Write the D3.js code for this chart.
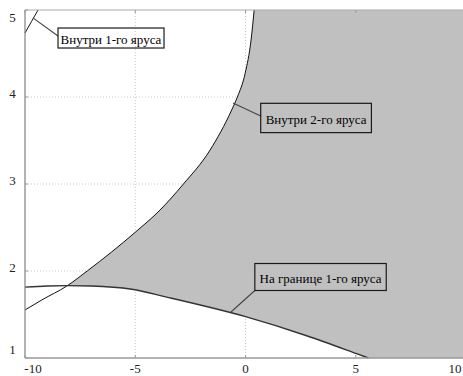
<!DOCTYPE html>
<html>
<head>
<meta charset="utf-8">
<script src="https://cdn.jsdelivr.net/npm/d3@7/dist/d3.min.js"></script>
<style>
  html, body { margin: 0; padding: 0; background: #fff; }
  svg { display: block; }
  text { font-family: "Liberation Serif", "Times New Roman", serif; }
</style>
</head>
<body>
<svg id="chart" width="463" height="376"></svg>
<script>
// ---- data ----
const xTicks = [-10, -5, 0, 5, 10];
const yTicks = [1, 2, 3, 4, 5];
// boundary of tier 2 (left edge of the shaded region)
const tier2X = [-10, -9.24, -8.1, -7.18, -4.97, -3.88, -2.85, -1.61, -0.63, -0.37, -0.02, 0.25, 0.39];
const tier2Y = [1.552, 1.667, 1.828, 2.0, 2.452, 2.70, 2.99, 3.39, 3.85, 4.0, 4.27, 4.655, 5.0];
// boundary of tier 1 (lower edge of the shaded region)
const tier1X = [-10, -9, -8.1, -7, -5.16, -3.58, 0, 2.77, 5, 5.57];
const tier1Y = [1.815, 1.828, 1.832, 1.828, 1.79, 1.70, 1.475, 1.256, 1.053, 1.0];
// short curve in the upper-left corner
const innerX = [-10, -9.7, -9.41];
const innerY = [4.736, 4.87, 5.0];
const labels = ["Внутри 1-го яруса", "Внутри 2-го яруса", "На границе 1-го яруса"];
const labelAnchorX = [-9.64, -0.57, -0.66];
const labelAnchorY = [4.91, 3.93, 1.529];
const labelPosX = [-6.10, 3.197, 3.40];
const labelPosY = [4.678, 3.759, 1.931];

// ---- layout ----
const svg = d3.select("#chart");
const x = d3.scaleLinear().domain([-10, 10]).range([25, 466.1]);
const y = d3.scaleLinear().domain([1, 5]).range([358, 10]);
const pts = (xs, ys) => xs.map((v, i) => [v, ys[i]]);
const A = pts(tier2X, tier2Y), B = pts(tier1X, tier1Y), C = pts(innerX, innerY);

// grid (under the fill)
const gridG = svg.append("g");
gridG.selectAll("line.gx").data(xTicks.filter(d => d > -10 && d < 10)).join("line")
  .attr("x1", d => x(d)).attr("x2", d => x(d)).attr("y1", y(5)).attr("y2", y(1))
  .attr("stroke", "#c8c8c8").attr("stroke-width", 1).attr("stroke-dasharray", "1,2");
gridG.selectAll("line.gy").data(yTicks.filter(d => d > 1 && d < 5)).join("line")
  .attr("x1", x(-10)).attr("x2", x(10)).attr("y1", d => y(d)).attr("y2", d => y(d))
  .attr("stroke", "#c8c8c8").attr("stroke-width", 1).attr("stroke-dasharray", "1,2");

// mask for the shaded region
const defs = svg.append("defs");
const mask = defs.append("mask").attr("id", "m").attr("maskUnits", "userSpaceOnUse")
  .attr("x", 0).attr("y", 0).attr("width", 463).attr("height", 376);
mask.append("rect").attr("x", x(-10)).attr("y", y(5)).attr("width", x(10) - x(-10)).attr("height", y(1) - y(5)).attr("fill", "#fff");
const areaTop = d3.area().x(d => x(d[0])).y0(y(5)).y1(d => y(d[1])).curve(d3.curveMonotoneX);
const areaBot = d3.area().x(d => x(d[0])).y0(y(1)).y1(d => y(d[1])).curve(d3.curveMonotoneX);
mask.append("path").attr("d", areaTop(A)).attr("fill", "#000");
mask.append("path").attr("d", areaBot(B)).attr("fill", "#000");
svg.append("rect").attr("x", x(-10)).attr("y", y(5)).attr("width", x(10) - x(-10)).attr("height", y(1) - y(5))
  .attr("fill", "#c0c0c0").attr("mask", "url(#m)");

// curves
const line = d3.line().x(d => x(d[0])).y(d => y(d[1])).curve(d3.curveMonotoneX);
svg.append("path").attr("d", line(A)).attr("fill", "none").attr("stroke", "#111").attr("stroke-width", 1);
svg.append("path").attr("d", line(B)).attr("fill", "none").attr("stroke", "#333").attr("stroke-width", 1.4);
svg.append("path").attr("d", line(C)).attr("fill", "none").attr("stroke", "#111").attr("stroke-width", 1);

// frame / axes
svg.append("line").attr("x1", x(-10)).attr("x2", x(10)).attr("y1", y(5)).attr("y2", y(5)).attr("stroke", "#aaa").attr("stroke-width", 1);
svg.append("line").attr("x1", x(-10)).attr("x2", x(-10)).attr("y1", y(5)).attr("y2", y(1)).attr("stroke", "#808080").attr("stroke-width", 1.2);
svg.append("line").attr("x1", x(-10)).attr("x2", x(10)).attr("y1", y(1)).attr("y2", y(1)).attr("stroke", "#999").attr("stroke-width", 1.6);
// small inner ticks
svg.selectAll("line.tb").data(xTicks).join("line").attr("x1", d => x(d)).attr("x2", d => x(d))
  .attr("y1", y(1)).attr("y2", y(1) - 3).attr("stroke", "#999");
svg.selectAll("line.tt").data(xTicks).join("line").attr("x1", d => x(d)).attr("x2", d => x(d))
  .attr("y1", y(5)).attr("y2", y(5) + 3).attr("stroke", "#999");
svg.selectAll("line.tl").data(yTicks).join("line").attr("x1", x(-10)).attr("x2", x(-10) + 3)
  .attr("y1", d => y(d)).attr("y2", d => y(d)).attr("stroke", "#999");

// tick labels
const clamp = (v, lo, hi) => Math.max(lo, Math.min(hi, v));
svg.selectAll("text.xl").data(xTicks).join("text")
  .attr("x", d => clamp(x(d), 33, 455)).attr("y", 373)
  .attr("text-anchor", "middle").attr("font-size", 13).attr("fill", "#222").text(d => d);
svg.selectAll("text.yl").data(yTicks).join("text")
  .attr("x", 12.5).attr("y", d => clamp(y(d) - 4, 17, 349)).attr("dy", "0.35em")
  .attr("text-anchor", "middle").attr("font-size", 13).attr("fill", "#222").text(d => d);

// annotations
const boxW = [106, 110.7, 131.4], boxH = [20, 29.3, 27];
const annG = svg.append("g");
labels.forEach((t, i) => {
  const cx = x(labelPosX[i]), cy = y(labelPosY[i]);
  const bx = cx - boxW[i] / 2, by = cy - boxH[i] / 2;
  const ax = x(labelAnchorX[i]), ay = y(labelAnchorY[i]);
  const ex = bx, ey = (i === 2) ? by + boxH[i] : cy - 2;
  annG.append("line").attr("x1", ax).attr("y1", ay).attr("x2", ex).attr("y2", ey)
    .attr("stroke", "#444").attr("stroke-width", 1.1);
  annG.append("rect").attr("x", bx).attr("y", by).attr("width", boxW[i]).attr("height", boxH[i])
    .attr("fill", "none").attr("stroke", "#1a1a1a").attr("stroke-width", 1.2);
  annG.append("text").attr("x", cx).attr("y", cy + 1).attr("dy", "0.35em")
    .attr("text-anchor", "middle").attr("font-size", 13).attr("fill", "#000").text(t);
});
</script>
</body>
</html>
